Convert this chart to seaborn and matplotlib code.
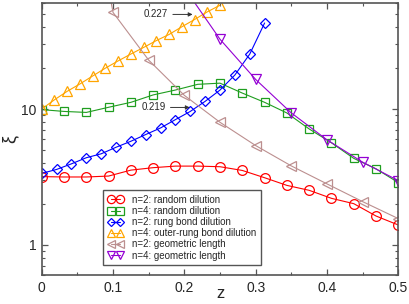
#!/usr/bin/env python3
"""Correlation length xi vs dilution z for n=2 / n=4 ladders (log scale)."""
import matplotlib
matplotlib.use("Agg")
import matplotlib.pyplot as plt
import matplotlib.ticker as mticker
import pandas as pd
import seaborn as sns

# --- data ---
z_random = [0, 0.03125, 0.0625, 0.09375, 0.125, 0.15625, 0.1875, 0.21875, 0.25,
            0.28125, 0.3125, 0.34375, 0.375, 0.40625, 0.4375, 0.46875, 0.5]
xi_random_n2 = [3.18, 3.16, 3.16, 3.21, 3.55, 3.70, 3.80, 3.80, 3.76,
                3.53, 3.12, 2.74, 2.52, 2.20, 2.01, 1.63, 1.40]
xi_random_n4 = [9.9, 9.60, 9.44, 10.3, 11.2, 12.7, 13.8, 15.2, 15.5,
                13.1, 11.2, 9.35, 7.13, 5.64, 4.33, 3.63, 2.87]

z_rung = [0, 0.0208, 0.0417, 0.0625, 0.0833, 0.1042, 0.125, 0.1458,
          0.1667, 0.1875, 0.2083, 0.2292, 0.25, 0.2708, 0.2917, 0.3125]
xi_rung_n2 = [3.36, 3.59, 3.95, 4.38, 4.68, 5.23, 5.79, 6.49,
              7.26, 8.36, 9.60, 11.4, 13.8, 17.8, 25.4, 43.0]

z_outer = [0, 0.0179, 0.0357, 0.0536, 0.0714, 0.0893, 0.1071, 0.125,
           0.1429, 0.1607, 0.1786, 0.1964, 0.2143, 0.2321, 0.25]
xi_outer_n4 = [10.0, 11.7, 13.5, 15.3, 17.5, 20.0, 22.6, 25.4,
               28.4, 31.9, 35.4, 40.3, 45.6, 51.9, 58.1]

z_geom_n2 = [0.05, 0.1, 0.15, 0.2, 0.25, 0.3, 0.35, 0.4, 0.45, 0.5]
xi_geom_n2 = [1200, 51.4, 22.9, 12.6, 7.98, 5.38, 3.81, 2.81, 2.08, 1.56]

z_geom_n4 = [0.2, 0.25, 0.3, 0.35, 0.4, 0.45, 0.5]
xi_geom_n4 = [78, 32.6, 16.5, 9.35, 5.93, 4.06, 2.97]

series = [
    ("n=2: random dilution", z_random, xi_random_n2, "#ff0000", "o", 7),
    ("n=4: random dilution", z_random, xi_random_n4, "#1f9e1f", "s", 6),
    ("n=2: rung bond dilution", z_rung, xi_rung_n2, "#0000ff", "D", 5.2),
    ("n=4: outer-rung bond dilution", z_outer, xi_outer_n4, "#ffa500", "^", 7),
    ("n=2: geometric length", z_geom_n2, xi_geom_n2, "#bc8f8f", "<", 7),
    ("n=4: geometric length", z_geom_n4, xi_geom_n4, "#9400d3", "v", 7),
]

sns.set_style("ticks")
plt.rcParams["font.family"] = ["Liberation Sans", "DejaVu Sans"]

fig = plt.figure(figsize=(4.09, 3.04), dpi=100)
ax = fig.add_axes([0.102, 0.0954, 0.872, 0.8937])

for label, zs, xis, color, marker, ms in series:
    df = pd.DataFrame({"z": zs, "xi": xis})
    sns.lineplot(data=df, x="z", y="xi", ax=ax, color=color, lw=0.8,
                 marker=marker, markersize=ms, markerfacecolor="none",
                 markeredgecolor=color, markeredgewidth=0.9,
                 estimator=None, sort=False, label=label)

ax.set_yscale("log")
ax.set_xlim(0, 0.5)
ax.set_ylim(0.6, 60)

ax.xaxis.set_major_locator(mticker.MultipleLocator(0.1))
ax.xaxis.set_minor_locator(mticker.MultipleLocator(0.05))
ax.xaxis.set_major_formatter(mticker.FuncFormatter(lambda v, p: f"{v:g}"))
ax.yaxis.set_major_locator(mticker.LogLocator(base=10))
ax.yaxis.set_minor_locator(mticker.LogLocator(base=10, subs=range(2, 10)))
ax.yaxis.set_major_formatter(mticker.FuncFormatter(lambda v, p: f"{v:g}"))
ax.yaxis.set_minor_formatter(mticker.NullFormatter())

frame = "#555555"
for sp in ax.spines.values():
    sp.set_color(frame)
    sp.set_linewidth(1.2)
ax.tick_params(which="both", direction="in", top=True, right=True,
               color=frame, labelsize=10, pad=4)
ax.tick_params(which="major", length=4, width=0.9)
ax.tick_params(which="minor", length=2.5, width=0.8)

ax.set_xlabel("z", fontsize=12)
ax.set_ylabel("ξ", fontsize=13)
ax.xaxis.set_label_coords(0.5, -0.042)
ax.yaxis.set_label_coords(-0.065, 0.5)

arrow = dict(arrowstyle="-|>", color="#333333", lw=0.7, mutation_scale=6,
             shrinkA=1, shrinkB=0)
ax.annotate("0.227", xy=(0.2115, 49.7), xytext=(0.1435, 49.7),
            fontsize=7, va="center", ha="left", arrowprops=arrow)
ax.annotate("0.219", xy=(0.2075, 10.27), xytext=(0.140, 10.27),
            fontsize=7, va="center", ha="left", arrowprops=arrow)

leg = ax.legend(loc="lower left", bbox_to_anchor=(0.173, 0.037),
                borderaxespad=0, fontsize=7, numpoints=2, handlelength=1.6,
                handletextpad=0.9, labelspacing=0.12, borderpad=0.45,
                markerscale=0.85, fancybox=False, framealpha=1)
leg.get_frame().set_edgecolor(frame)
leg.get_frame().set_linewidth(1.0)

fig.savefig("out.png", dpi=100)
